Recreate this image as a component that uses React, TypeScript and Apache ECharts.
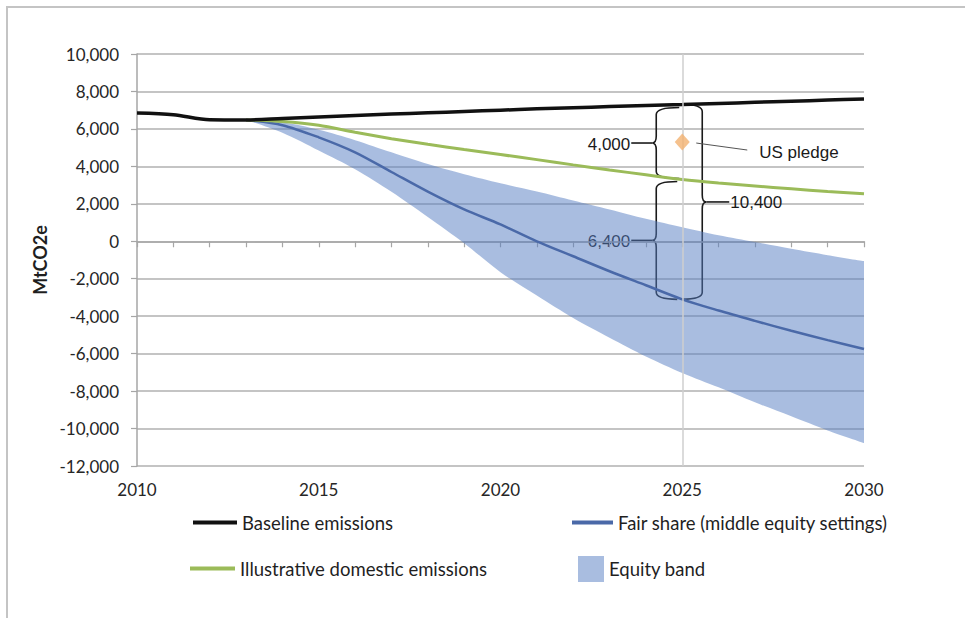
import React, { useEffect, useRef } from "react";
import * as echarts from "echarts";

const years = ["2010","2011","2012","2013","2014","2015","2016","2017","2018","2019","2020","2021","2022","2023","2024","2025","2026","2027","2028","2029","2030"];
const baseline = [6850, 6760, 6490, 6480, 6560, 6640, 6720, 6790, 6860, 6930, 7000, 7070, 7130, 7190, 7250, 7300, 7360, 7420, 7480, 7540, 7600];
const illustrative: (number | string)[] = ["-", "-", "-", 6480, 6400, 6200, 5820, 5480, 5180, 4900, 4630, 4360, 4080, 3810, 3550, 3300, 3110, 2950, 2800, 2660, 2540];
const fairShare: (number | string)[] = ["-", "-", "-", 6480, 6200, 5550, 4750, 3700, 2650, 1700, 900, 0, -800, -1600, -2350, -3100, -3700, -4250, -4780, -5280, -5750];
const bandUpper: (number | string)[] = ["-", "-", "-", 6480, 6350, 5950, 5400, 4750, 4120, 3580, 3100, 2660, 2180, 1700, 1200, 750, 320, -40, -400, -740, -1060];
const bandLower: (number | string)[] = ["-", "-", "-", 6480, 5800, 4850, 3850, 2650, 1300, -100, -1650, -2900, -4100, -5150, -6150, -7030, -7800, -8600, -9350, -10100, -10770];
const pledgeYear = "2025";
const pledgeValue = 5300;
const bracketYear = "2025";
const bracketLevels = [7300, 3300, -3100];
const bracketLabels = ["4,000", "6,400", "10,400"];
const pledgeLabel = "US pledge";
const yMin = -12000;
const yMax = 10000;
const yStep = 2000;

const bandDiff = bandUpper.map((u, i) =>
  typeof u === "number" && typeof bandLower[i] === "number" ? (u as number) - (bandLower[i] as number) : "-"
);

const Brace = (echarts.graphic as any).extendShape({
  shape: { x: 0, y1: 0, y2: 0, w: 20, dir: 1, r: 7 },
  buildPath(ctx: any, s: any) {
    const d = s.dir;
    const xr = s.x;
    const xs = s.x - d * s.w;
    const xp = xs - d * 4;
    const ym = (s.y1 + s.y2) / 2;
    const r = s.r;
    ctx.moveTo(xr, s.y1);
    ctx.quadraticCurveTo(xs, s.y1, xs, s.y1 + r);
    ctx.lineTo(xs, ym - r);
    ctx.quadraticCurveTo(xs, ym, xp, ym);
    ctx.quadraticCurveTo(xs, ym, xs, ym + r);
    ctx.lineTo(xs, s.y2 - r);
    ctx.quadraticCurveTo(xs, s.y2, xr, s.y2);
  },
});
(echarts.graphic as any).registerShape("brace", Brace);

const FONT = "Lato, 'Open Sans', sans-serif";
const AFONT = "'Liberation Sans', Arial, sans-serif";
const BAND = "rgba(83,123,193,0.5)";

export default function App() {
  const ref = useRef<HTMLDivElement>(null);
  useEffect(() => {
    if (!ref.current) return;
    const chart = echarts.init(ref.current, undefined, { renderer: "svg" });
    const legendText = { fontFamily: FONT, fontSize: 18.5, color: "#1f1f1f" };
    chart.setOption({
      animation: false,
      backgroundColor: "#ffffff",
      grid: { left: 137, right: 101, top: 54, bottom: 152, containLabel: false },
      xAxis: {
        type: "category",
        data: years,
        boundaryGap: false,
        axisLine: { lineStyle: { color: "#a6a6a6", width: 1.5 } },
        axisTick: { interval: 0, length: 6, lineStyle: { color: "#a6a6a6", width: 1.2 } },
        axisLabel: { interval: 4, margin: 15, fontFamily: FONT, fontSize: 17, color: "#262626" },
        splitLine: { show: false },
      },
      yAxis: {
        type: "value",
        min: yMin,
        max: yMax,
        interval: yStep,
        name: "MtCO2e",
        nameLocation: "middle",
        nameGap: 84,
        nameRotate: 90,
        nameTextStyle: { fontFamily: FONT, fontSize: 18, fontWeight: "bold", color: "#1f1f1f" },
        axisLine: { show: true, lineStyle: { color: "#a6a6a6", width: 1.5 } },
        axisTick: { show: true, length: 6, lineStyle: { color: "#a6a6a6", width: 1.2 } },
        axisLabel: {
          margin: 18,
          fontFamily: FONT,
          fontSize: 17,
          color: "#262626",
          formatter: (v: number) => v.toLocaleString("en-US"),
        },
        splitLine: { lineStyle: { color: "#b0b0b0", width: 1.5 } },
      },
      legend: [
        { data: [{ name: "Baseline emissions", icon: "rect" }], left: 193, top: 513, itemWidth: 44, itemHeight: 4, padding: 0, selectedMode: false, textStyle: legendText },
        { data: [{ name: "Fair share (middle equity settings)", icon: "rect" }], left: 572, top: 513, itemWidth: 41, itemHeight: 4, padding: 0, selectedMode: false, textStyle: legendText },
        { data: [{ name: "Illustrative domestic emissions", icon: "rect" }], left: 190, top: 559, itemWidth: 45, itemHeight: 4, padding: 0, selectedMode: false, textStyle: legendText },
        { data: [{ name: "Equity band", icon: "rect" }], left: 578, top: 556, itemWidth: 26, itemHeight: 26, padding: 0, itemGap: 8, selectedMode: false, textStyle: legendText },
      ],
      series: [
        {
          name: "band-lower",
          type: "line",
          stack: "band",
          stackStrategy: "all",
          data: bandLower,
          smooth: 0.3,
          symbol: "none",
          silent: true,
          lineStyle: { width: 0, opacity: 0 },
          markLine: {
            silent: true,
            symbol: "none",
            label: { show: false },
            lineStyle: { color: "#cfcfcf", width: 1.5, type: "solid" },
            data: [{ xAxis: bracketYear }],
          },
        },
        {
          name: "Equity band",
          type: "line",
          stack: "band",
          stackStrategy: "all",
          data: bandDiff,
          smooth: 0.3,
          symbol: "none",
          silent: true,
          color: BAND,
          itemStyle: { color: BAND },
          lineStyle: { width: 0, opacity: 0 },
          areaStyle: { color: BAND, opacity: 1 },
        },
        {
          name: "Fair share (middle equity settings)",
          type: "line",
          data: fairShare,
          smooth: 0.3,
          symbol: "none",
          color: "#4a69a8",
          itemStyle: { color: "#4a69a8" },
          lineStyle: { color: "#4a69a8", width: 2.5 },
        },
        {
          name: "Illustrative domestic emissions",
          type: "line",
          data: illustrative,
          smooth: 0.3,
          symbol: "none",
          color: "#9bbb59",
          itemStyle: { color: "#9bbb59" },
          lineStyle: { color: "#9bbb59", width: 3 },
        },
        {
          name: "Baseline emissions",
          type: "line",
          data: baseline,
          smooth: 0.3,
          symbol: "none",
          color: "#111111",
          itemStyle: { color: "#111111" },
          lineStyle: { color: "#111111", width: 3.5 },
        },
        {
          name: pledgeLabel,
          type: "scatter",
          data: [[pledgeYear, pledgeValue]],
          symbol: "diamond",
          symbolSize: [15, 17],
          itemStyle: { color: "#f3b270" },
          z: 5,
        },
      ],
    });

    const px = (v: number) => chart.convertToPixel({ xAxisIndex: 0, yAxisIndex: 0 }, [bracketYear, v]) as number[];
    const [x25, yTop] = px(bracketLevels[0]);
    const yMid = px(bracketLevels[1])[1];
    const yBot = px(bracketLevels[2])[1];
    const yP = px(pledgeValue)[1];
    const stroke = "#1a1a1a";
    const braceStyle = { stroke, fill: "none", lineWidth: 1.6 };
    const txt = (text: string, x: number, y: number, align: string) => ({
      type: "text",
      x,
      y,
      silent: true,
      style: { text, font: `17px ${AFONT}`, fill: "#1a1a1a", align, verticalAlign: "middle" },
    });
    const m1 = (yTop + 3 + yMid - 1) / 2;
    const m2 = (yMid + 2 + yBot) / 2;
    const m3 = (yTop + yBot) / 2;
    chart.setOption({
      graphic: [
        { type: "rect", silent: true, z: 0, shape: { x: 7, y: 7, width: 1200, height: 900 }, style: { fill: "none", stroke: "#c4c4c4", lineWidth: 2 } },
        { type: "brace", silent: true, shape: { x: x25 - 3, y1: yTop + 3, y2: yMid - 1, w: 23, dir: 1, r: 7 }, style: braceStyle },
        { type: "brace", silent: true, shape: { x: x25 - 5, y1: yMid + 2, y2: yBot, w: 21, dir: 1, r: 7 }, style: braceStyle },
        { type: "brace", silent: true, shape: { x: x25, y1: yTop, y2: yBot, w: 20, dir: -1, r: 7 }, style: braceStyle },
        { type: "line", silent: true, shape: { x1: x25 - 51, y1: m1, x2: x25 - 30, y2: m1 }, style: { stroke, lineWidth: 1.6 } },
        { type: "line", silent: true, shape: { x1: x25 - 51, y1: m2, x2: x25 - 30, y2: m2 }, style: { stroke, lineWidth: 1.6 } },
        { type: "line", silent: true, shape: { x1: x25 + 24, y1: m3, x2: x25 + 47, y2: m3 }, style: { stroke, lineWidth: 1.6 } },
        txt(bracketLabels[0], x25 - 52, m1 + 1, "right"),
        txt(bracketLabels[1], x25 - 52, m2 + 1, "right"),
        txt(bracketLabels[2], x25 + 48, m3 + 1, "left"),
        { type: "line", silent: true, shape: { x1: x25 + 14, y1: yP + 1, x2: x25 + 65, y2: yP + 8 }, style: { stroke: "#555555", lineWidth: 1 } },
        txt(pledgeLabel, x25 + 77, yP + 10, "left"),
      ],
    });

    return () => chart.dispose();
  }, []);
  return <div ref={ref} style={{ position: "fixed", left: 0, top: 0, width: 965, height: 618 }} />;
}
